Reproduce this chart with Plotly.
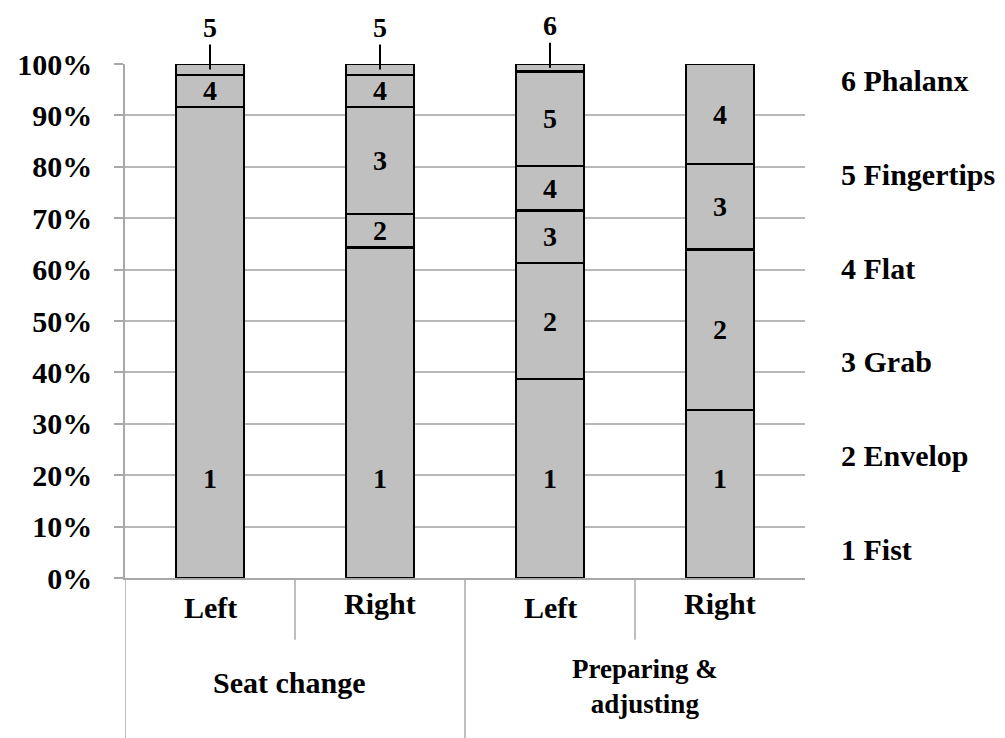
import plotly.graph_objects as go

# ---- data ----
tasks = ["Seat change", "Seat change", "Preparing &<br>adjusting", "Preparing &<br>adjusting"]
hands = ["Left", "Right", "Left", "Right"]
grip_names = ["1 Fist", "2 Envelop", "3 Grab", "4 Flat", "5 Fingertips", "6 Phalanx"]
grip_ids = ["1", "2", "3", "4", "5", "6"]
fist = [91.6, 64.3, 38.7, 32.7]
envelop = [None, 6.5, 22.6, 31.2]
grab = [None, 20.8, 10.2, 16.6]
flat = [6.3, 6.3, 8.7, 19.5]
fingertips = [2.1, 2.1, 18.3, None]
phalanx = [None, None, 1.5, None]
y_ticks = [0, 10, 20, 30, 40, 50, 60, 70, 80, 90, 100]
y_tick_labels = [f"{t}%" for t in y_ticks]

series = [fist, envelop, grab, flat, fingertips, phalanx]

FONT = "Liberation Serif"
BAR = "#c0c0c0"
GRID = "#b8b8b8"
AX = "#a8a8a8"

fig = go.Figure()
xs = list(range(len(hands)))
for name, vals in zip(grip_names, series):
    fig.add_trace(go.Bar(
        x=xs, y=vals, name=name, width=0.4,
        marker=dict(color=BAR, line=dict(color="black", width=2.5)),
        showlegend=False, hoverinfo="skip",
    ))

annotations = []
seg_font = dict(family=FONT, size=28, color="black")
# segment labels computed from the stacked data
for i in xs:
    base = 0.0
    for gid, vals in zip(grip_ids, series):
        v = vals[i]
        if v is None:
            continue
        center = base + v / 2
        if gid == "1":
            center = 19.3
        if v >= 4:
            annotations.append(dict(x=i, y=center, text=f"<b>{gid}</b>", showarrow=False,
                                    font=seg_font, xref="x", yref="y"))
        else:
            annotations.append(dict(x=i, y=base + v / 2, text=f"<b>{gid}</b>", showarrow=True,
                                    arrowhead=0, arrowwidth=2, arrowcolor="black",
                                    ax=0, ay=-42, standoff=0,
                                    font=dict(family=FONT, size=28, color="black"),
                                    xref="x", yref="y"))
        base += v

# grip legend on the right
n = len(grip_names)
for k, name in enumerate(grip_names):
    yy = 5.6 + k * (96.7 - 5.6) / (n - 1)
    annotations.append(dict(x=1.0, y=yy, xref="paper", yref="y", xanchor="left", xshift=34,
                            text=f"<b>{name}</b>", showarrow=False,
                            font=dict(family=FONT, size=30, color="black")))

# category table labels
cat_font = dict(family=FONT, size=30, color="black")
for i, h in enumerate(hands):
    annotations.append(dict(x=i, y=-0.049 if h == "Right" else -0.058, xref="x", yref="paper",
                            yanchor="middle", text=f"<b>{h}</b>", showarrow=False, font=cat_font))
groups = []
for i, t in enumerate(tasks):
    if not groups or groups[-1][0] != t:
        groups.append([t, i, i])
    else:
        groups[-1][2] = i
for t, a, b in groups:
    multi = "<br>" in t
    xc = (a + b) / 2 + (0.06 if multi else -0.03)
    annotations.append(dict(x=xc, y=-0.212 if multi else -0.204, xref="x", yref="paper",
                            yanchor="middle",
                            text="<br>".join(f"<b>{p}</b>" for p in t.split("<br>")),
                            showarrow=False,
                            font=dict(family=FONT, size=27 if multi else 30, color="black")))

shapes = []
line_style = dict(color=AX, width=1.5)
# table vertical dividers
for xpos in [-0.5, 1.5]:
    shapes.append(dict(type="line", xref="x", yref="paper", x0=xpos, x1=xpos, y0=0, y1=-0.32, line=line_style))
for xpos in [0.5, 2.5]:
    shapes.append(dict(type="line", xref="x", yref="paper", x0=xpos, x1=xpos, y0=0, y1=-0.12, line=line_style))

fig.update_layout(
    barmode="stack",
    width=997, height=730,
    margin=dict(l=117, r=200, t=56, b=160),
    paper_bgcolor="white", plot_bgcolor="white",
    annotations=annotations, shapes=shapes,
    xaxis=dict(range=[-0.5, 3.5], showticklabels=False, showgrid=False, zeroline=False,
               showline=True, linecolor=AX, linewidth=1.5, ticks="", automargin=False),
    yaxis=dict(range=[0, 100], tickvals=y_ticks, ticktext=[f"<b>{t}</b>" for t in y_tick_labels],
               showgrid=True, gridcolor=GRID, gridwidth=1.5, zeroline=False,
               showline=True, linecolor=AX, linewidth=1.5,
               ticks="outside", ticklen=9, tickcolor=AX, tickwidth=1.5,
               ticklabelstandoff=16, automargin=False,
               tickfont=dict(family=FONT, size=30, color="black")),
    bargap=0.6,
)

fig.write_html("out.html")
